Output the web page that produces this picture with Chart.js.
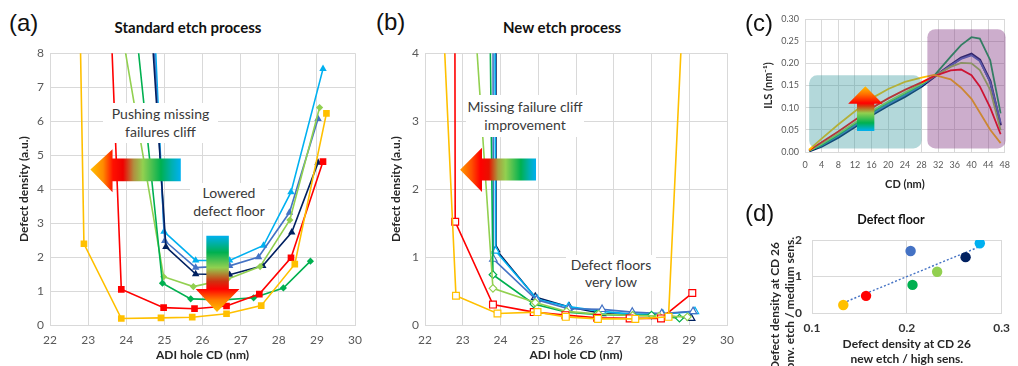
<!DOCTYPE html>
<html><head><meta charset="utf-8">
<script src="https://cdn.jsdelivr.net/npm/chart.js@4.4.1/dist/chart.umd.min.js"></script>
<style>
body{margin:0;width:1018px;height:366px;overflow:hidden;background:#fff;position:relative;font-family:Lato,sans-serif}
canvas{position:absolute}
.lbl{position:absolute;font-family:"Liberation Sans",Arial,sans-serif;font-size:24px;color:#111;line-height:1;transform:translateY(-50%)}
.ttl{position:absolute;font-family:Lato,sans-serif;font-weight:bold;font-size:15px;color:#111;transform:translate(-50%,-50%);white-space:nowrap}
.note{position:absolute;background:#fff;font-family:Lato,sans-serif;font-size:14px;line-height:18.5px;color:#3a3a3a;text-align:center;display:flex;align-items:center;justify-content:center;white-space:nowrap;z-index:5}
.ytl{position:absolute;transform:translate(-50%,-50%) rotate(-90deg);font:bold 12px Lato,sans-serif;line-height:15px;text-align:center;white-space:nowrap;color:#262626}
</style></head>
<body>
<canvas id="ca" width="357" height="326" style="left:13px;top:40px"></canvas>
<canvas id="cb" width="357" height="326" style="left:385px;top:40px"></canvas>
<canvas id="cc" width="258" height="195" style="left:760px;top:0px"></canvas>
<canvas id="cd" width="258" height="171" style="left:760px;top:195px"></canvas>

<div class="lbl" style="left:9px;top:23px">(a)</div>
<div class="ttl" style="left:188px;top:27px">Standard etch process</div>
<div class="lbl" style="left:376px;top:22px">(b)</div>
<div class="ttl" style="left:562px;top:27px">New etch process</div>
<div class="lbl" style="left:745px;top:23px">(c)</div>
<div class="lbl" style="left:745px;top:213px">(d)</div>
<div class="ttl" style="left:891px;top:219px;font-size:12.5px">Defect floor</div>
<div class="ytl" style="left:782px;top:306px">Defect density at CD 26<br>conv. etch / medium sens.</div>

<div class="note" style="left:103px;top:103px;width:115px;height:40px">Pushing missing<br>failures cliff</div>
<div class="note" style="left:190px;top:183px;width:78px;height:38px">Lowered<br>defect floor</div>
<div class="note" style="left:466px;top:95px;width:118px;height:42px">Missing failure cliff<br>improvement</div>
<div class="note" style="left:566px;top:255px;width:90px;height:36px;line-height:17px">Defect floors<br>very low</div>

<script>
// ---------- (a) Standard etch process : ADI hole CD (nm) vs defect density ----------
const stdYellowCD = [22.77, 22.89, 23.87, 24.91, 25.73, 26.63, 27.54, 28.42, 29.25];
const stdYellowDD = [10, 2.39, 0.19, 0.21, 0.23, 0.33, 0.57, 1.79, 6.23];
const stdRedCD = [23.56, 23.87, 24.98, 25.79, 26.63, 27.49, 28.32, 29.16];
const stdRedDD = [10, 1.05, 0.51, 0.48, 0.56, 0.91, 1.98, 4.81];
const stdGreenCD = [24.14, 24.95, 25.69, 26.55, 27.34, 28.12, 28.83];
const stdGreenDD = [10, 1.23, 0.77, 0.74, 0.80, 1.09, 1.88];
const stdLightGreenCD = [23.68, 24.98, 25.76, 26.65, 27.51, 28.29, 29.07];
const stdLightGreenDD = [10, 1.42, 1.13, 1.35, 1.72, 3.09, 6.40];
const stdNavyCD = [24.59, 25.04, 25.82, 26.71, 27.58, 28.34, 29.03];
const stdNavyDD = [10, 2.30, 1.50, 1.48, 1.74, 2.73, 4.78];
const stdBlueCD = [24.64, 25.01, 25.82, 26.71, 27.47, 28.28, 29.03];
const stdBlueDD = [10, 2.48, 1.69, 1.74, 2.00, 3.31, 6.07];
const stdSkyCD = [24.69, 24.99, 25.82, 26.71, 27.60, 28.32, 29.16];
const stdSkyDD = [10, 2.75, 1.90, 1.90, 2.34, 3.91, 7.54];

// ---------- (b) New etch process ----------
const newYellowCD = [22.44, 22.82, 23.92, 24.98, 25.73, 26.58, 27.57, 28.45, 28.86];
const newYellowDD = [5, 0.43, 0.17, 0.19, 0.12, 0.09, 0.09, 0.12, 5];
const newRedCD = [22.79, 22.80, 23.80, 24.88, 25.72, 26.56, 27.42, 28.25, 29.08];
const newRedDD = [5, 1.52, 0.30, 0.19, 0.145, 0.106, 0.097, 0.097, 0.47];
const newLightGreenCD = [23.26, 23.80, 24.92, 25.75, 26.60, 27.50, 28.20, 28.95];
const newLightGreenDD = [5, 0.54, 0.33, 0.20, 0.16, 0.14, 0.13, 0.12];
const newGreenCD = [23.71, 23.80, 24.88, 25.75, 26.54, 27.50, 28.00, 28.74];
const newGreenDD = [5, 0.74, 0.31, 0.19, 0.155, 0.14, 0.145, 0.10];
const newBlueCD = [23.80, 23.81, 24.95, 25.80, 26.69, 27.49, 28.27, 29.10];
const newBlueDD = [5, 0.97, 0.37, 0.24, 0.23, 0.19, 0.17, 0.20];
const newSkyCD = [23.85, 23.87, 24.97, 25.80, 26.69, 27.50, 28.30, 29.15];
const newSkyDD = [5, 1.09, 0.38, 0.27, 0.20, 0.16, 0.16, 0.20];
const newNavyCD = [23.87, 23.88, 24.92, 25.82, 26.69, 27.50, 28.30, 29.05];
const newNavyDD = [5, 1.11, 0.41, 0.265, 0.17, 0.15, 0.14, 0.10];

// ---------- (c) ILS vs CD ----------
const ilsCD = [1, 4, 8, 12, 16, 20, 24, 28, 31, 35, 37.5, 40, 42, 44.5, 47];
const ilsYellow = [0.005,0.030,0.062,0.092,0.121,0.142,0.158,0.168,0.174,0.164,0.145,0.120,0.089,0.050,0.020];
const ilsRed = [0.004,0.022,0.046,0.072,0.099,0.121,0.140,0.157,0.171,0.184,0.186,0.173,0.148,0.100,0.040];
const ilsLightGreen = [0.003,0.018,0.041,0.066,0.092,0.114,0.134,0.154,0.171,0.192,0.201,0.200,0.185,0.140,0.049];
const ilsGreen = [0.003,0.016,0.039,0.064,0.090,0.112,0.132,0.153,0.172,0.215,0.241,0.259,0.256,0.207,0.087];
const ilsBlue = [0.003,0.015,0.036,0.060,0.086,0.108,0.128,0.150,0.170,0.195,0.210,0.218,0.205,0.158,0.066];
const ilsNavy = [0.002,0.013,0.033,0.057,0.083,0.105,0.125,0.148,0.169,0.196,0.212,0.221,0.208,0.160,0.060];

// ---------- (d) Defect floor ----------
const floorNew = [0.133, 0.157, 0.204, 0.206, 0.232, 0.262, 0.277];
const floorConv = [0.22, 0.47, 1.70, 0.77, 1.13, 1.53, 1.91];
const floorColors = ['#FFC000', '#FF0000', '#4472C4', '#00B050', '#92D050', '#002060', '#00B0F0'];

const C = {yellow:'#FFC000', red:'#FF0000', green:'#00B050', lgreen:'#92D050', navy:'#002060', blue:'#4472C4', sky:'#00B0F0'};
const GRID = '#d9d9d9';

Chart.defaults.font.family = 'Lato, "Open Sans", sans-serif';
Chart.defaults.color = '#595959';
Chart.defaults.animation = false;
Chart.defaults.events = [];
Chart.defaults.plugins.legend.display = false;
Chart.defaults.plugins.tooltip.enabled = false;

const fixW = w => s => { s.width = w; };
const fixH = h => s => { s.height = h; };
const pts = (xs, ys) => xs.map((x, i) => ({x, y: ys[i]}));

function ds(xs, ys, color, style, radius, open) {
  return {data: pts(xs, ys), borderColor: color, borderWidth: 1.6, tension: 0,
    pointStyle: style, pointRadius: radius, pointBorderColor: color,
    pointBackgroundColor: open ? '#fff' : color, pointBorderWidth: open ? 1.2 : 0};
}

// decoration plugin: gradient arrows & shaded boxes in data coordinates
const decor = {
  id: 'decor',
  afterDatasetsDraw(chart, args, opts) {
    const {ctx} = chart, sx = chart.scales.x, sy = chart.scales.y;
    const X = v => sx.getPixelForValue(v), Y = v => sy.getPixelForValue(v);
    ctx.save();
    (opts.boxes || []).forEach(b => {
      ctx.beginPath();
      const x0 = X(b.x0), x1 = X(b.x1), y0 = Y(b.y1), y1 = Y(b.y0);
      ctx.roundRect(x0, y0, x1 - x0, y1 - y0, b.r);
      ctx.fillStyle = b.color; ctx.fill();
    });
    (opts.arrows || []).forEach(a => {
      const g = ctx.createLinearGradient(X(a.g0[0]), Y(a.g0[1]), X(a.g1[0]), Y(a.g1[1]));
      a.stops.forEach(s => g.addColorStop(s[0], s[1]));
      ctx.beginPath();
      a.pts.forEach((p, i) => i ? ctx.lineTo(X(p[0]), Y(p[1])) : ctx.moveTo(X(p[0]), Y(p[1])));
      ctx.closePath();
      ctx.fillStyle = g; ctx.fill();
    });
    ctx.restore();
  }
};

const leftStops = [[0,'#FFC000'],[0.14,'#FF8A00'],[0.25,'#FF1000'],[0.36,'#F00000'],[0.48,'#B09040'],[0.58,'#92D050'],[0.78,'#00B050'],[0.9,'#00B0B0'],[1,'#00B0F0']];
const vertStops = [[0,'#00B0F0'],[0.22,'#00B050'],[0.42,'#92D050'],[0.6,'#D03010'],[0.7,'#FF0000'],[0.85,'#FF8000'],[1,'#FFC000']];

function leftArrow(tipX, tipY, hb, tail, s0, s1, h0, h1, stops) {
  return {pts: [[tipX, tipY], [hb, h1], [hb, s1], [tail, s1], [tail, s0], [hb, s0], [hb, h0]],
    g0: [tipX, tipY], g1: [tail, tipY], stops};
}
function vertArrow(tipX, tipY, hb, tail, s0, s1, h0, h1, stops) {
  return {pts: [[tipX, tipY], [h0, hb], [s0, hb], [s0, tail], [s1, tail], [s1, hb], [h1, hb]],
    g0: [tipX, tail], g1: [tipX, tipY], stops};
}

function axis(min, max, step, opts) {
  return Object.assign({type: 'linear', min, max,
    ticks: {stepSize: step, padding: opts.tp, font: {size: opts.fs || 12, weight: opts.tw || 'normal'}, color: opts.tc || '#595959', callback: opts.cb},
    grid: {color: GRID, drawTicks: false, lineWidth: 1},
    border: {color: GRID},
    title: {display: !!opts.title, text: opts.title, color: '#262626', font: {size: opts.tfs || 12, weight: 'bold'}, padding: opts.tpad || {top: 0, bottom: 4}},
    afterFit: opts.fit}, {});
}

// (a)
new Chart(document.getElementById('ca'), {
  type: 'line',
  data: {datasets: [
    ds(stdYellowCD, stdYellowDD, C.yellow, 'rect', 4.7),
    ds(stdRedCD, stdRedDD, C.red, 'rect', 4.7),
    ds(stdGreenCD, stdGreenDD, C.green, 'rectRot', 3.6),
    ds(stdLightGreenCD, stdLightGreenDD, C.lgreen, 'rectRot', 3.6),
    ds(stdNavyCD, stdNavyDD, C.navy, 'triangle', 4.3),
    ds(stdBlueCD, stdBlueDD, C.blue, 'triangle', 4.3),
    ds(stdSkyCD, stdSkyDD, C.sky, 'triangle', 4.3)
  ]},
  options: {responsive: false, layout: {padding: {top: 9, right: 13, left: 0, bottom: 0}},
    scales: {
      x: axis(22, 30, 1, {tp: 8, title: 'ADI hole CD (nm)', fit: fixH(41)}),
      y: axis(0, 8, 1, {tp: 6, title: 'Defect density (a.u.)', tpad: {top: 4, bottom: 0}, fit: fixW(37)})
    },
    plugins: {decor: {arrows: [
      leftArrow(23.06, 4.58, 23.64, 25.43, 4.23, 4.90, 3.91, 5.17, leftStops),
      vertArrow(26.38, 0.385, 1.06, 2.63, 26.10, 26.69, 25.82, 26.97, vertStops)
    ]}}
  },
  plugins: [decor]
});

// (b)
new Chart(document.getElementById('cb'), {
  type: 'line',
  data: {datasets: [
    ds(newYellowCD, newYellowDD, C.yellow, 'rect', 4.8, true),
    ds(newRedCD, newRedDD, C.red, 'rect', 4.8, true),
    ds(newLightGreenCD, newLightGreenDD, C.lgreen, 'rectRot', 3.8, true),
    ds(newGreenCD, newGreenDD, C.green, 'rectRot', 3.8, true),
    ds(newBlueCD, newBlueDD, C.blue, 'triangle', 4.3, true),
    ds(newSkyCD, newSkyDD, C.sky, 'triangle', 4.3, true),
    ds(newNavyCD, newNavyDD, C.navy, 'triangle', 4.3, true)
  ]},
  options: {responsive: false, layout: {padding: {top: 9, right: 9, left: 0, bottom: 0}},
    scales: {
      x: axis(22, 30, 1, {tp: 8, title: 'ADI hole CD (nm)', fit: fixH(41)}),
      y: axis(0, 4, 1, {tp: 6, title: 'Defect density (a.u.)', tpad: {top: 4, bottom: 0}, fit: fixW(40)})
    },
    plugins: {decor: {arrows: [
      leftArrow(22.93, 2.285, 23.51, 24.94, 2.126, 2.45, 1.957, 2.61,
        [[0,'#FF9A00'],[0.15,'#FF5000'],[0.27,'#FF0000'],[0.38,'#E81000'],[0.5,'#A8A040'],[0.6,'#92D050'],[0.8,'#00B050'],[0.92,'#00B0B8'],[1,'#00B0F0']])
    ]}}
  },
  plugins: [decor]
});

// (c)
function ils(ys, color, w) {
  return {data: pts(ilsCD, ys), borderColor: color, borderWidth: w || 1.8, pointRadius: 0, tension: 0};
}
new Chart(document.getElementById('cc'), {
  type: 'line',
  data: {datasets: [
    ils(ilsYellow, C.yellow), ils(ilsRed, C.red), ils(ilsLightGreen, C.lgreen),
    ils(ilsGreen, C.green), ils(ilsBlue, C.blue), ils(ilsNavy, C.navy, 2.6)
  ]},
  options: {responsive: false, layout: {padding: {top: 19, right: 5, left: 0, bottom: 0}},
    scales: {
      x: axis(0, 48, 4, {tp: 8, fs: 9, title: 'CD (nm)', tfs: 11, fit: fixH(43)}),
      y: axis(0, 0.30, 0.05, {tp: 6, fs: 9, title: 'ILS (nm\u207B\u00B9)', tfs: 11, tpad: {top: 2, bottom: 0}, fit: fixW(45), cb: v => v.toFixed(2)})
    },
    plugins: {decor: {
      boxes: [
        {x0: 1.0, x1: 28.0, y0: 0.008, y1: 0.173, r: 8, color: 'rgba(50,150,155,0.37)'},
        {x0: 29.4, x1: 48.2, y0: 0.008, y1: 0.277, r: 8, color: 'rgba(128,50,128,0.40)'}
      ],
      arrows: [
        vertArrow(14.5, 0.1485, 0.109, 0.0475, 12.5, 16.66, 10.37, 18.66,
          [[0,'#00B0F0'],[0.18,'#00B050'],[0.4,'#92D050'],[0.55,'#D04010'],[0.62,'#FF0000'],[0.82,'#FF7000'],[1,'#FFC000']])
      ]
    }}
  },
  plugins: [decor]
});

// (d)
const n = floorNew.length;
const mx = floorNew.reduce((a, b) => a + b, 0) / n, my = floorConv.reduce((a, b) => a + b, 0) / n;
let sxy = 0, sxx = 0;
floorNew.forEach((x, i) => { sxy += (x - mx) * (floorConv[i] - my); sxx += (x - mx) * (x - mx); });
const slope = sxy / sxx, icpt = my - slope * mx;
const fitX = [Math.min(...floorNew), Math.max(...floorNew)];
new Chart(document.getElementById('cd'), {
  type: 'scatter',
  data: {datasets: [
    {data: pts(floorNew, floorConv), backgroundColor: floorColors, pointRadius: 5.2, borderWidth: 0, pointBorderWidth: 0},
    {type: 'line', data: fitX.map(x => ({x, y: icpt + slope * x})), borderColor: C.blue, borderWidth: 1.4, borderDash: [2, 2], pointRadius: 0, showLine: true}
  ]},
  options: {responsive: false, layout: {padding: {top: 45, right: 9, left: 0, bottom: 0}},
    scales: {
      x: axis(0.1, 0.3, 0.1, {tp: 8, tw: 'bold', tc: '#333', title: ['Defect density at CD 26', 'new etch / high sens.'], tpad: {top: 0, bottom: 0}, fit: fixH(53), cb: v => v.toFixed(1)}),
      y: axis(0, 2, 1, {tp: 10, tw: 'bold', tc: '#333', fit: fixW(52)})
    }
  }
});
</script>
</body></html>
